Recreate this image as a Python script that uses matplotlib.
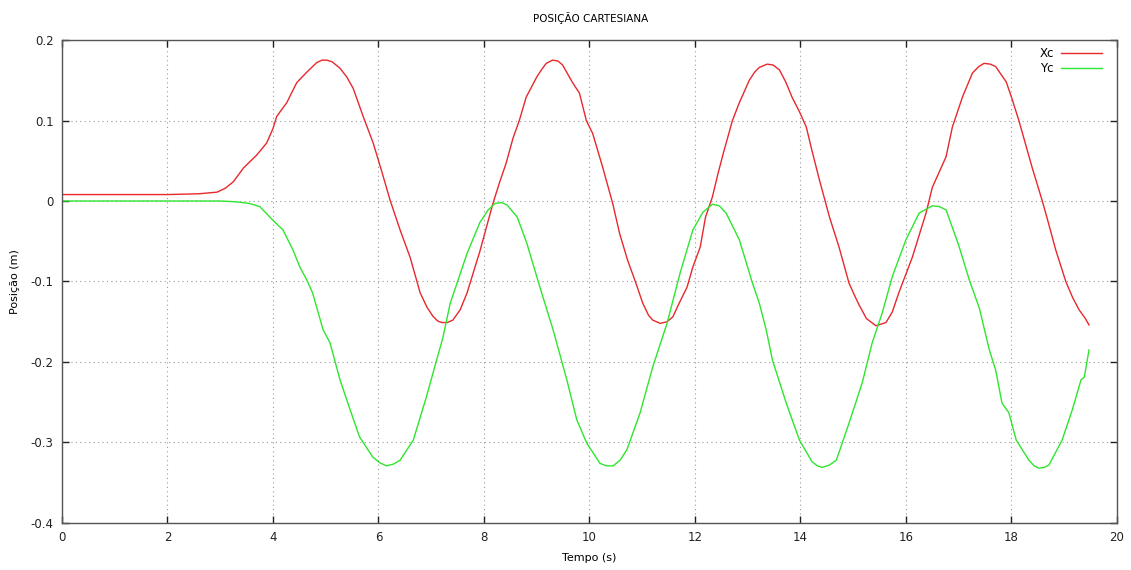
import matplotlib.pyplot as plt
import numpy as np

# Xc (red)
t_xc = [0.0, 1.0, 2.0, 2.6, 2.94, 3.1, 3.25, 3.44, 3.69, 3.88, 4.0, 4.07, 4.26, 4.45, 4.64,
        4.83, 4.93, 5.02, 5.12, 5.27, 5.40, 5.52, 5.71, 5.90, 6.07, 6.22, 6.41, 6.60,
        6.79, 6.92, 7.03, 7.12, 7.20, 7.30, 7.41, 7.55, 7.68, 7.92, 8.17, 8.30, 8.42,
        8.55, 8.67, 8.80, 9.00, 9.10, 9.18, 9.30, 9.40, 9.49, 9.68, 9.81, 9.94, 10.06,
        10.25, 10.44, 10.57, 10.72, 10.88, 11.01, 11.12, 11.20, 11.34, 11.47, 11.58,
        11.70, 11.85, 11.96, 12.10, 12.20, 12.33, 12.44, 12.54, 12.71, 12.84, 13.03,
        13.13, 13.22, 13.37, 13.48, 13.60, 13.72, 13.84, 13.98, 14.11, 14.22, 14.36,
        14.55, 14.73, 14.92, 15.03, 15.11, 15.25, 15.43, 15.62, 15.74, 15.87, 16.12,
        16.38, 16.50, 16.63, 16.76, 16.88, 17.07, 17.26, 17.38, 17.48, 17.60, 17.70,
        17.90, 18.00, 18.14, 18.39, 18.58, 18.67, 18.84, 19.03, 19.16, 19.28, 19.40,
        19.47]
xc = [0.008, 0.008, 0.008, 0.009, 0.011, 0.016, 0.024, 0.041, 0.057, 0.072, 0.090, 0.105,
      0.122, 0.147, 0.160, 0.172, 0.175, 0.175, 0.173, 0.165, 0.154, 0.140, 0.105, 0.072,
      0.035, 0.001, -0.036, -0.070, -0.114, -0.132, -0.143, -0.149, -0.151, -0.151,
      -0.148, -0.135, -0.114, -0.063, -0.003, 0.024, 0.047, 0.078, 0.100, 0.129, 0.154,
      0.164, 0.171, 0.175, 0.174, 0.169, 0.147, 0.134, 0.100, 0.084, 0.042, -0.003,
      -0.040, -0.073, -0.102, -0.127, -0.142, -0.148, -0.152, -0.150, -0.144, -0.127,
      -0.107, -0.082, -0.057, -0.020, 0.005, 0.035, 0.060, 0.100, 0.122, 0.150, 0.160,
      0.166, 0.170, 0.169, 0.163, 0.148, 0.129, 0.111, 0.092, 0.062, 0.026, -0.020,
      -0.057, -0.102, -0.118, -0.129, -0.146, -0.155, -0.151, -0.138, -0.113, -0.070,
      -0.015, 0.017, 0.036, 0.055, 0.092, 0.129, 0.159, 0.167, 0.171, 0.170, 0.167,
      0.148, 0.129, 0.100, 0.042, 0.001, -0.020, -0.061, -0.100, -0.120, -0.135, -0.146,
      -0.154]

# Yc (green)
t_yc = [0.0, 1.0, 2.0, 3.0, 3.3, 3.55, 3.75, 4.0, 4.19, 4.38, 4.51, 4.64, 4.75, 4.95, 5.08,
        5.27, 5.45, 5.64, 5.89, 6.02, 6.15, 6.28, 6.41, 6.66, 6.91, 7.10, 7.22, 7.36,
        7.51, 7.68, 7.92, 8.08, 8.21, 8.33, 8.44, 8.63, 8.81, 9.06, 9.31, 9.57, 9.76,
        9.95, 10.20, 10.32, 10.45, 10.58, 10.71, 10.96, 11.20, 11.47, 11.72, 11.96,
        12.15, 12.33, 12.46, 12.59, 12.84, 13.09, 13.22, 13.35, 13.47, 13.73, 13.98,
        14.22, 14.32, 14.41, 14.55, 14.68, 14.92, 15.17, 15.36, 15.55, 15.74, 16.00,
        16.25, 16.50, 16.63, 16.76, 17.00, 17.20, 17.39, 17.58, 17.70, 17.82, 17.95,
        18.09, 18.33, 18.43, 18.52, 18.62, 18.71, 18.96, 19.15, 19.32, 19.38, 19.47]
yc = [0.000, 0.000, 0.000, 0.000, -0.001, -0.003, -0.007, -0.024, -0.036, -0.061, -0.082,
      -0.098, -0.114, -0.160, -0.176, -0.222, -0.257, -0.293, -0.318, -0.325, -0.329,
      -0.327, -0.322, -0.297, -0.243, -0.198, -0.170, -0.127, -0.098, -0.065, -0.027,
      -0.011, -0.003, -0.002, -0.005, -0.020, -0.052, -0.107, -0.160, -0.222, -0.272,
      -0.301, -0.326, -0.329, -0.329, -0.322, -0.309, -0.263, -0.206, -0.152, -0.089,
      -0.036, -0.014, -0.004, -0.006, -0.015, -0.048, -0.102, -0.127, -0.160, -0.198,
      -0.251, -0.297, -0.324, -0.329, -0.331, -0.328, -0.322, -0.276, -0.226, -0.176,
      -0.139, -0.094, -0.048, -0.015, -0.006, -0.007, -0.011, -0.055, -0.098, -0.133,
      -0.185, -0.210, -0.251, -0.263, -0.297, -0.322, -0.329, -0.332, -0.331, -0.328,
      -0.297, -0.260, -0.222, -0.219, -0.185]

x_ticks = np.arange(0, 21, 2)
y_ticks = [-0.4, -0.3, -0.2, -0.1, 0, 0.1, 0.2]
y_tick_labels = ["-0.4", "-0.3", "-0.2", "-0.1", "0", "0.1", "0.2"]

fig = plt.figure(figsize=(11.31, 5.70), dpi=100)
ax = fig.add_axes([0.0548, 0.0825, 0.9328, 0.8473])

ax.plot(t_xc, xc, color="#e8282c", lw=1.0, label="Xc")
ax.plot(t_yc, yc, color="#2ee62e", lw=1.0, label="Yc")

ax.set_xlim(0, 20)
ax.set_ylim(-0.4, 0.2)
ax.set_xticks(x_ticks)
ax.set_xticklabels([str(v) for v in x_ticks])
ax.set_yticks(y_ticks)
ax.set_yticklabels(y_tick_labels)
ax.tick_params(direction="in", top=True, right=True, length=5, width=1,
               labelsize=8.5, colors="#222222", pad=6)
ax.grid(True, color="#999999", linestyle=(0, (1, 3)), linewidth=0.8)
for s in ax.spines.values():
    s.set_color("#555555")
    s.set_linewidth(1.0)

fig.text(0.522, 0.968, "POSIÇÃO CARTESIANA", ha="center", va="center", fontsize=7.5)
ax.set_xlabel("Tempo (s)", fontsize=8, labelpad=6)
ax.set_ylabel("Posição (m)", fontsize=8, labelpad=8)

ax.legend(loc="upper right", bbox_to_anchor=(0.995, 1.005), frameon=False,
          markerfirst=False, fontsize=8.5, handlelength=3.5, handletextpad=0.6,
          labelspacing=0.15, borderaxespad=0.4)

fig.savefig("out.png", dpi=100)
